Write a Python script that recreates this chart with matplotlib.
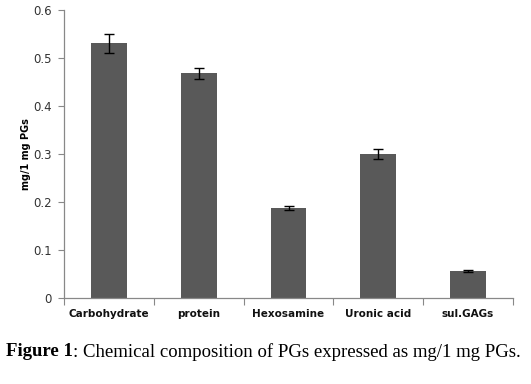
import matplotlib
matplotlib.use("Agg")
import matplotlib.pyplot as plt
import numpy as np

categories = ["Carbohydrate", "protein", "Hexosamine", "Uronic acid", "sul.GAGs"]
values = [0.531, 0.468, 0.188, 0.300, 0.057]
errors = [0.020, 0.011, 0.005, 0.010, 0.002]
yticks = [0, 0.1, 0.2, 0.3, 0.4, 0.5, 0.6]
ytick_labels = ["0", "0.1", "0.2", "0.3", "0.4", "0.5", "0.6"]

fig = plt.figure(figsize=(5.31, 3.84), dpi=100)
ax = fig.add_axes([64/531, 1-298.3/384, (513-64)/531, (298.3-10)/384])

x = np.arange(len(categories))
ax.bar(x, values, width=0.4, color="#595959", zorder=2)
ax.errorbar(x, values, yerr=errors, fmt="none", ecolor="black", elinewidth=1.0,
            capsize=3.5, capthick=1.0, zorder=3)

ax.set_xlim(-0.5, len(categories) - 0.5)
ax.set_ylim(0, 0.6)
ax.set_yticks(yticks)
ax.set_yticklabels(ytick_labels, fontsize=8.5, color="#333333")
ax.set_xticks(np.arange(-0.5, len(categories), 1.0))
ax.set_xticklabels([])
ax.set_xticks(x, minor=True)
ax.set_xticklabels(categories, minor=True, fontsize=7.5, fontweight="bold", color="#111111")
ax.tick_params(axis="x", which="minor", length=0, pad=8)
ax.tick_params(axis="x", which="major", length=5, direction="out", color="#888888")
ax.tick_params(axis="y", length=4, direction="out", color="#888888", pad=5)

for s in ["top", "right"]:
    ax.spines[s].set_visible(False)
for s in ["left", "bottom"]:
    ax.spines[s].set_color("#888888")
    ax.spines[s].set_linewidth(0.9)

ax.yaxis.set_label_coords(-33/449, 0.5)
ax.set_ylabel("mg/1 mg PGs", fontsize=7, fontweight="bold")

t1 = fig.text(6/531, 1-352/384, "Figure 1", fontsize=13.5, fontweight="bold",
              family="Liberation Serif", va="center", ha="left")
fig.canvas.draw()
bb = t1.get_window_extent(fig.canvas.get_renderer())
fig.text(bb.x1/531/ (fig.dpi/100), 1-352/384, ": Chemical composition of PGs expressed as mg/1 mg PGs.",
         fontsize=13.5, family="Liberation Serif", va="center", ha="left")

fig.savefig("out.png", dpi=100)
